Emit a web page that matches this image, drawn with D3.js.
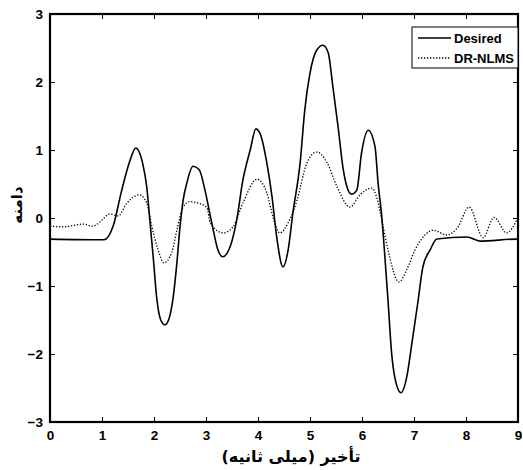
<!DOCTYPE html>
<html><head><meta charset="utf-8">
<script src="https://cdn.jsdelivr.net/npm/d3@7"></script>
<style>body{margin:0;background:#fff}svg{display:block}</style>
</head><body>
<script>
const xTicks = [0,1,2,3,4,5,6,7,8,9];
const yTicks = [-3,-2,-1,0,1,2,3];
const seriesNames = ["Desired","DR-NLMS"];
const desiredT = [0,1.04,1.21,1.38,1.54,1.65,1.78,1.86,1.92,1.99,2.05,2.13,2.21,2.28,2.37,2.44,2.5,2.56,2.63,2.75,2.87,2.98,3.11,3.23,3.32,3.46,3.59,3.71,3.85,3.96,4.06,4.17,4.27,4.36,4.48,4.58,4.67,4.81,4.9,5.0,5.13,5.25,5.35,5.44,5.54,5.64,5.71,5.8,5.9,5.99,6.12,6.25,6.31,6.38,6.44,6.5,6.57,6.63,6.75,6.86,6.96,7.08,7.17,7.31,7.44,8.02,8.27,8.98,9];
const desiredV = [-0.31,-0.32,-0.13,0.41,0.85,1.03,0.81,0.46,-0.03,-0.62,-1.16,-1.5,-1.57,-1.5,-1.16,-0.66,-0.13,0.26,0.51,0.76,0.71,0.41,-0.07,-0.47,-0.57,-0.43,-0.03,0.56,1.0,1.31,1.2,0.81,0.31,-0.28,-0.72,-0.47,0.07,0.81,1.59,2.13,2.47,2.54,2.43,1.93,1.34,0.71,0.46,0.35,0.41,0.95,1.29,1.05,0.51,0.02,-0.57,-1.21,-1.99,-2.34,-2.57,-2.34,-1.84,-1.21,-0.72,-0.47,-0.31,-0.28,-0.34,-0.31,-0.31];
const nlmsT = [0,0.26,0.64,0.83,1.0,1.15,1.31,1.48,1.72,1.86,1.96,2.08,2.19,2.34,2.44,2.56,2.69,2.85,3.02,3.08,3.33,3.52,3.71,3.98,4.17,4.29,4.42,4.58,4.75,4.94,5.13,5.33,5.52,5.77,5.96,6.19,6.28,6.38,6.5,6.71,6.86,7.02,7.21,7.37,7.63,7.83,8.06,8.33,8.54,8.78,9.0];
const nlmsV = [-0.12,-0.13,-0.09,-0.12,-0.03,0.06,0.03,0.22,0.34,0.22,-0.13,-0.47,-0.66,-0.51,-0.18,0.16,0.24,0.22,0.15,-0.07,-0.22,-0.13,0.22,0.57,0.37,0.01,-0.22,-0.07,0.26,0.81,0.97,0.81,0.46,0.16,0.34,0.44,0.31,-0.03,-0.47,-0.94,-0.76,-0.47,-0.25,-0.18,-0.25,-0.15,0.16,-0.29,0.01,-0.22,0.01];

const W=523,H=470;
const m={l:50,r:5,t:14,b:48};
const svg=d3.select("body").append("svg").attr("width",W).attr("height",H);
const x=d3.scaleLinear().domain([0,9]).range([m.l,W-m.r]);
const y=d3.scaleLinear().domain([-3,3]).range([H-m.b,m.t]);
const font="Liberation Sans, Arial, sans-serif";

const line=d3.line().x(d=>x(d[0])).y(d=>y(d[1])).curve(d3.curveMonotoneX);
const g=svg.append("g");
g.append("path").datum(nlmsT.map((t,i)=>[t,nlmsV[i]])).attr("d",line)
 .attr("fill","none").attr("stroke","#000").attr("stroke-width",1.3).attr("stroke-dasharray","1.3,1.7");
g.append("path").datum(desiredT.map((t,i)=>[t,desiredV[i]])).attr("d",line)
 .attr("fill","none").attr("stroke","#000").attr("stroke-width",1.6);

// axes with inward ticks
function styleAx(sel){sel.selectAll(".domain").remove();sel.selectAll("line").attr("stroke","#000").attr("stroke-width",1);
 sel.selectAll("text").attr("font-family",font).attr("font-weight","bold").attr("font-size",13.5).attr("fill","#000");}
const bx=svg.append("g").attr("transform",`translate(0,${y(-3)})`).call(d3.axisBottom(x).tickValues(xTicks).tickSize(-5).tickPadding(8).tickFormat(d3.format("d")));
styleAx(bx);
const tx=svg.append("g").attr("transform",`translate(0,${y(3)})`).call(d3.axisTop(x).tickValues(xTicks).tickSize(-5).tickFormat(""));
styleAx(tx);
const ly=svg.append("g").attr("transform",`translate(${x(0)},0)`).call(d3.axisLeft(y).tickValues(yTicks).tickSize(-5).tickPadding(7).tickFormat(d3.format("d")));
styleAx(ly);
const ry=svg.append("g").attr("transform",`translate(${x(9)},0)`).call(d3.axisRight(y).tickValues(yTicks).tickSize(-5).tickFormat(""));
styleAx(ry);
svg.append("rect").attr("x",x(0)).attr("y",y(3)).attr("width",x(9)-x(0)).attr("height",y(-3)-y(3))
 .attr("fill","none").attr("stroke","#000").attr("stroke-width",2.2);

// legend
const lg=svg.append("g");
lg.append("rect").attr("x",412).attr("y",27).attr("width",x(9)-412).attr("height",41).attr("fill","#fff").attr("stroke","#000").attr("stroke-width",1);
[[0,null],[1,"1.3,1.7"]].forEach(([i,da])=>{
  const yy=38+i*20;
  const l=lg.append("line").attr("x1",418).attr("x2",451).attr("y1",yy).attr("y2",yy).attr("stroke","#000").attr("stroke-width",i?1.3:1.6);
  if(da) l.attr("stroke-dasharray",da);
  lg.append("text").attr("x",454).attr("y",yy+4.5).text(seriesNames[i]).attr("font-family",font).attr("font-weight","bold").attr("font-size",13);
});

// titles
svg.append("text").attr("x",(x(0)+x(9))/2+7).attr("y",462).attr("text-anchor","middle")
 .attr("font-family","DejaVu Sans, sans-serif").attr("font-weight","bold").attr("font-size",16).attr("direction","rtl")
 .text("تأخير (ميلی ثانيه)");
svg.append("text").attr("transform",`translate(22,205) rotate(-90)`).attr("text-anchor","middle")
 .attr("font-family","DejaVu Sans, sans-serif").attr("font-weight","bold").attr("font-size",15)
 .text("دامنه");
</script>
</body></html>
